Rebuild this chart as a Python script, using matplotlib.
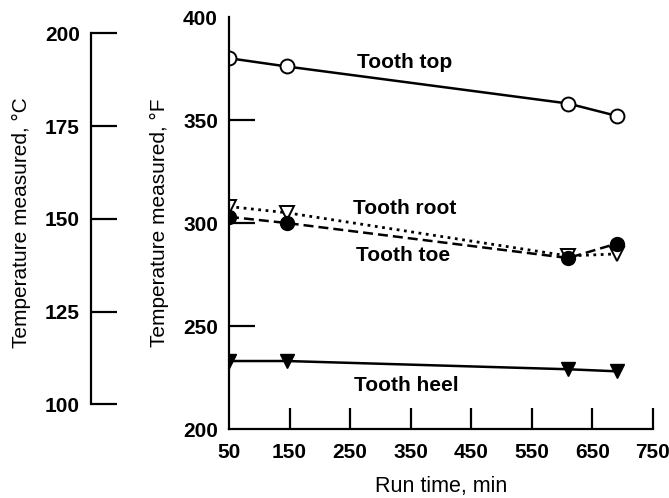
import matplotlib
matplotlib.use("Agg")
import matplotlib.pyplot as plt

plt.rcParams['font.family'] = ['Liberation Sans', 'DejaVu Sans']

# run time, min
run_time = [50, 145, 610, 690]
# temperatures, deg F
tooth_top = [380, 376, 358, 352]
tooth_root = [308, 305, 284, 285]
tooth_toe = [303, 300, 283, 290]
tooth_heel = [233, 233, 229, 228]

x_ticks = [50, 150, 250, 350, 450, 550, 650, 750]
f_ticks = [200, 250, 300, 350, 400]
c_ticks = [100, 125, 150, 175, 200]

W, H = 669, 498
fig = plt.figure(figsize=(W / 100, H / 100), dpi=100)

# main axes (deg F)
ax = fig.add_axes([229 / W, 1 - 429 / H, (653 - 229) / W, (429 - 17) / H])
ax.plot(run_time, tooth_top, '-', color='black', lw=1.8, marker='o',
        ms=10, mfc='white', mec='black', mew=1.4)
ax.plot(run_time, tooth_root, ':', color='black', lw=2.0, marker='v',
        ms=10, mfc='white', mec='black', mew=1.4)
ax.plot(run_time, tooth_toe, '--', color='black', lw=1.8, marker='o',
        ms=10, mfc='black', mec='black', dashes=(4, 2))
ax.plot(run_time, tooth_heel, '-', color='black', lw=1.8, marker='v',
        ms=10, mfc='black', mec='black')

ax.set_xlim(50, 750)
ax.set_ylim(200, 400)
ax.set_xticks(x_ticks)
ax.set_yticks(f_ticks)
ax.spines['top'].set_visible(False)
ax.spines['right'].set_visible(False)
for s in ('left', 'bottom'):
    ax.spines[s].set_linewidth(1.6)
ax.tick_params(axis='x', direction='in', length=15, width=1.6, labelsize=15, pad=10)
ax.tick_params(axis='y', direction='in', length=19, width=1.6, labelsize=15, pad=8)
for lbl in ax.get_xticklabels() + ax.get_yticklabels():
    lbl.set_fontweight('bold')
ax.xaxis.get_major_ticks()[0].tick1line.set_visible(False)
ax.yaxis.get_major_ticks()[0].tick1line.set_visible(False)
ax.yaxis.get_major_ticks()[-1].tick1line.set_visible(False)
ax.set_xlabel('Run time, min', fontsize=15.5, labelpad=10)
ax.set_ylabel('Temperature measured, °F', fontsize=15, labelpad=10)

ax.text(340, 378, 'Tooth top', fontsize=15, fontweight='bold', ha='center', va='center')
ax.text(340, 307, 'Tooth root', fontsize=15, fontweight='bold', ha='center', va='center')
ax.text(338, 284, 'Tooth toe', fontsize=15, fontweight='bold', ha='center', va='center')
ax.text(343, 221, 'Tooth heel', fontsize=15, fontweight='bold', ha='center', va='center')

# secondary scale (deg C), aligned to the deg F axis
ax2 = fig.add_axes([91 / W, 1 - 429 / H, 30 / W, (429 - 17) / H])
ax2.set_ylim((200 - 32) / 1.8, (400 - 32) / 1.8)
ax2.set_yticks(c_ticks)
ax2.set_xticks([])
for s in ('top', 'right', 'bottom'):
    ax2.spines[s].set_visible(False)
ax2.spines['left'].set_bounds(100, 200)
ax2.spines['left'].set_linewidth(1.6)
ax2.patch.set_visible(False)
ax2.tick_params(axis='y', direction='in', length=19, width=1.6, labelsize=15, pad=8)
for lbl in ax2.get_yticklabels():
    lbl.set_fontweight('bold')
ax2.set_ylabel('Temperature measured, °C', fontsize=15, labelpad=10)

fig.savefig('out.png', dpi=100)
